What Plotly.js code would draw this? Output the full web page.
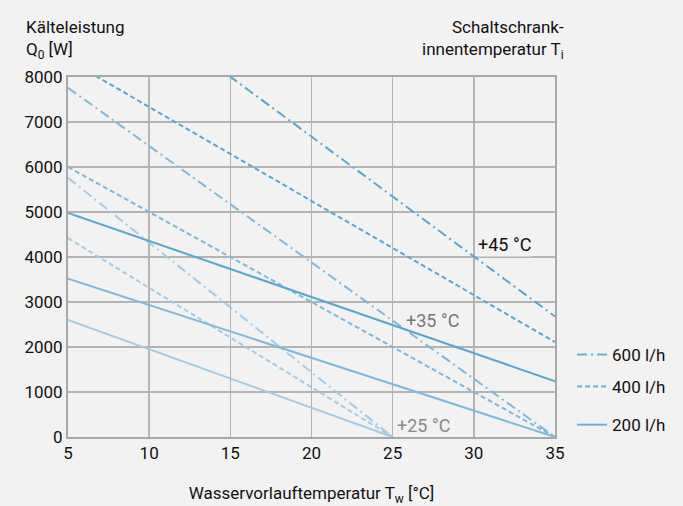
<!DOCTYPE html>
<html><head><meta charset="utf-8">
<script src="https://cdn.plot.ly/plotly-3.0.1.min.js"></script>
<style>body{margin:0;background:#f2f2f2}</style>
</head><body><div id="c" style="width:683px;height:506px"></div>
<script>
// x values: water supply temperature Tw [°C]
const tw45 = [5, 35];
const tw35 = [5, 35];
const tw25 = [5, 25];
// +45 °C cabinet internal temperature
const q45_600 = [10670, 2680];
const q45_400 = [8380, 2110];
const q45_200 = [4980, 1240];
// +35 °C
const q35_600 = [7760, 0];
const q35_400 = [6000, 0];
const q35_200 = [3520, 0];
// +25 °C
const q25_600 = [5760, 0];
const q25_400 = [4420, 0];
const q25_200 = [2600, 0];
const flowLabels = ['600 l/h', '400 l/h', '200 l/h'];
const tempLabels = ['+45 °C', '+35 °C', '+25 °C'];
const xTicks = [5, 10, 15, 20, 25, 30, 35];
const yTicks = [0, 1000, 2000, 3000, 4000, 5000, 6000, 7000, 8000];

const FONT = 'Roboto, "Liberation Sans Narrow", Arial, sans-serif';
const c45 = '#5aa6cf', c35 = '#80b8da', c25 = '#a5cbe4', cLeg = '#6cafd5';
const DASHDOT = '10px,4px,2px,4px', DASH = '5px,3px';

function tr(x, y, color, dash) {
  return {x: x, y: y, mode: 'lines', showlegend: false, hoverinfo: 'skip',
    line: {color: color, width: 2, dash: dash}};
}
const data = [
  tr(tw25, q25_600, c25, DASHDOT), tr(tw25, q25_400, c25, DASH), tr(tw25, q25_200, c25, 'solid'),
  tr(tw35, q35_600, c35, DASHDOT), tr(tw35, q35_400, c35, DASH), tr(tw35, q35_200, c35, 'solid'),
  tr(tw45, q45_600, c45, DASHDOT), tr(tw45, q45_400, c45, DASH), tr(tw45, q45_200, c45, 'solid'),
];
const legNames = ['legend', 'legend2', 'legend3'];
[DASHDOT, DASH, 'solid'].forEach((d, i) => {
  data.push({x: [null], y: [null], mode: 'lines', name: flowLabels[i], showlegend: true,
    legend: legNames[i], line: {color: cLeg, width: 2, dash: d}});
});
const legY = [0.228, 0.139, 0.033];
function leg(i) {
  return {x: 1.035, xanchor: 'left', y: legY[i], yanchor: 'middle', bgcolor: 'rgba(0,0,0,0)',
    font: {family: FONT, size: 17, color: '#111'}, itemwidth: 30};
}

const layout = {
  width: 683, height: 506,
  paper_bgcolor: '#f2f2f2', plot_bgcolor: '#f2f2f2',
  margin: {l: 68, r: 126, t: 77, b: 69},
  font: {family: FONT, size: 17, color: '#111'},
  xaxis: {range: [5, 35], tickvals: xTicks, ticktext: xTicks.map(String),
    showgrid: true, gridcolor: '#b4b4b4', gridwidth: 1.5, zeroline: false,
    showline: true, linecolor: '#a8a8a8', linewidth: 2, mirror: true,
    ticks: '', ticklen: 0, tickfont: {size: 17}, fixedrange: true,
    title: {text: 'Wasservorlauftemperatur T<sub>w</sub> [°C]', font: {size: 17}, standoff: 27}},
  yaxis: {range: [0, 8000], tickvals: yTicks, ticktext: yTicks.map(String),
    showgrid: true, gridcolor: '#b4b4b4', gridwidth: 1.5, zeroline: false,
    showline: true, linecolor: '#a8a8a8', linewidth: 2, mirror: true,
    ticks: '', ticklen: 0, tickfont: {size: 17}, fixedrange: true},
  legend: leg(0), legend2: leg(1), legend3: leg(2),
  annotations: [
    {xref: 'paper', yref: 'paper', x: -0.09, y: 1.0, yshift: 13, xanchor: 'left', yanchor: 'bottom',
      align: 'left', showarrow: false, text: 'Kälteleistung<br>Q<sub>0</sub> [W]'},
    {xref: 'paper', yref: 'paper', x: 1.022, y: 1.0, yshift: 13, xanchor: 'right', yanchor: 'bottom',
      align: 'right', showarrow: false, text: 'Schaltschrank-<br>innentemperatur T<sub>i</sub>'},
    {x: 31.9, y: 4280, showarrow: false, text: tempLabels[0], font: {color: '#111', size: 18}, bgcolor: '#f2f2f2'},
    {x: 27.45, y: 2600, showarrow: false, text: tempLabels[1], font: {color: '#777', size: 18}},
    {x: 26.9, y: 260, showarrow: false, text: tempLabels[2], font: {color: '#888', size: 18}}
  ]
};
Plotly.newPlot('c', data, layout, {displayModeBar: false, staticPlot: true});
</script></body></html>
